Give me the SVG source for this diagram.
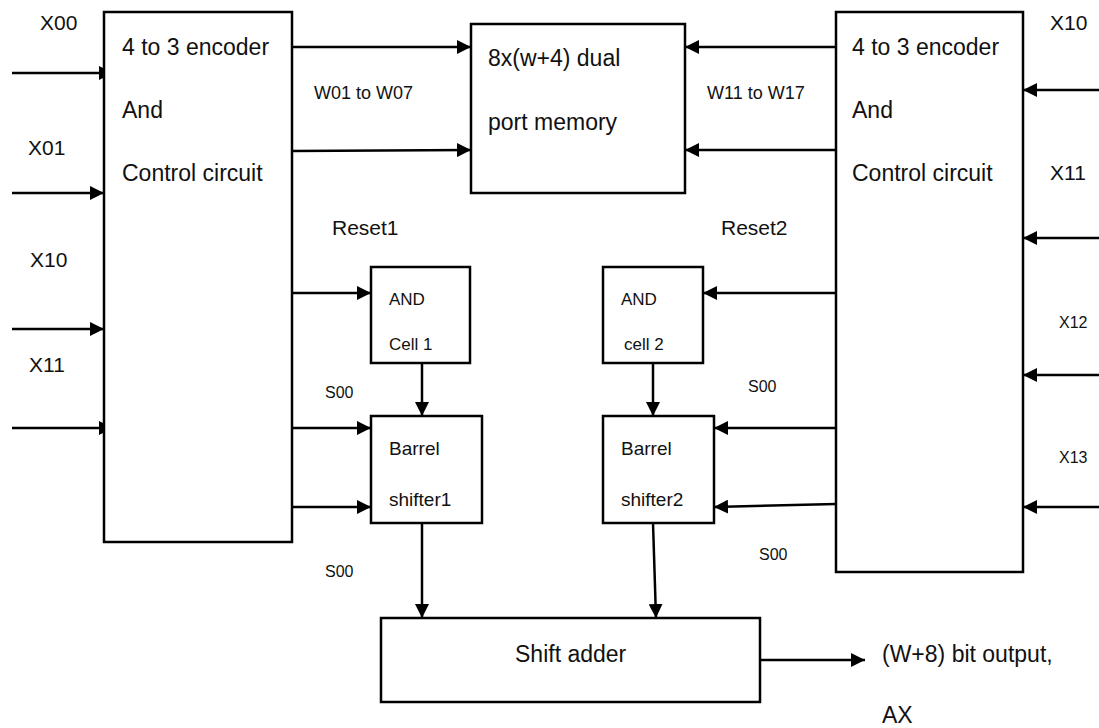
<svg xmlns="http://www.w3.org/2000/svg" width="1099" height="728" viewBox="0 0 1099 728">
<style>
.box{fill:#fff;stroke:#000;stroke-width:2.5}
.ln{stroke:#000;stroke-width:2.5;fill:none}
.t{font-family:"Liberation Sans",Arial,sans-serif;fill:#111}
.big{font-size:23px}
.mid{font-size:21px}
.sm{font-size:18px}
.cell{font-size:17px}
.bar{font-size:19px}
.xs{font-size:16px}
</style>
<defs>
<marker id="ah" viewBox="0 0 10 10" refX="10" refY="5" markerWidth="14" markerHeight="14" markerUnits="userSpaceOnUse" orient="auto">
<path d="M0,0 L10,5 L0,10 z" fill="#000"/>
</marker>
</defs>
<rect width="1099" height="728" fill="#fff"/>

<g id="connectors">
<line class="ln" x1="12" y1="73" x2="113" y2="73" marker-end="url(#ah)"/>
<line class="ln" x1="12" y1="193" x2="104" y2="193" marker-end="url(#ah)"/>
<line class="ln" x1="12" y1="329" x2="104" y2="329" marker-end="url(#ah)"/>
<line class="ln" x1="12" y1="428" x2="113" y2="428" marker-end="url(#ah)"/>

<line class="ln" x1="292" y1="47" x2="471" y2="47" marker-end="url(#ah)"/>
<line class="ln" x1="292" y1="151" x2="471" y2="150" marker-end="url(#ah)"/>
<line class="ln" x1="836" y1="47" x2="685" y2="47" marker-end="url(#ah)"/>
<line class="ln" x1="836" y1="150" x2="685" y2="150" marker-end="url(#ah)"/>

<line class="ln" x1="1099" y1="90" x2="1023" y2="90" marker-end="url(#ah)"/>
<line class="ln" x1="1099" y1="238" x2="1023" y2="238" marker-end="url(#ah)"/>
<line class="ln" x1="1099" y1="375" x2="1023" y2="375" marker-end="url(#ah)"/>
<line class="ln" x1="1099" y1="507" x2="1023" y2="507" marker-end="url(#ah)"/>

<line class="ln" x1="292" y1="293" x2="371" y2="293" marker-end="url(#ah)"/>
<line class="ln" x1="292" y1="428" x2="371" y2="428" marker-end="url(#ah)"/>
<line class="ln" x1="292" y1="507" x2="371" y2="507" marker-end="url(#ah)"/>

<line class="ln" x1="836" y1="293" x2="703" y2="293" marker-end="url(#ah)"/>
<line class="ln" x1="836" y1="428" x2="714" y2="428" marker-end="url(#ah)"/>
<line class="ln" x1="836" y1="504" x2="714" y2="507" marker-end="url(#ah)"/>

<line class="ln" x1="422" y1="363" x2="422" y2="416" marker-end="url(#ah)"/>
<line class="ln" x1="653" y1="363" x2="653" y2="416" marker-end="url(#ah)"/>
<line class="ln" x1="422" y1="523" x2="422" y2="618" marker-end="url(#ah)"/>
<line class="ln" x1="653" y1="523" x2="656" y2="618" marker-end="url(#ah)"/>

<line class="ln" x1="760" y1="660" x2="865" y2="660" marker-end="url(#ah)"/>
</g>

<g id="input-labels">
<text class="t mid" x="40" y="30">X00</text>
<text class="t mid" x="28" y="155">X01</text>
<text class="t mid" x="30" y="267">X10</text>
<text class="t mid" x="29" y="372">X11</text>
<text class="t mid" x="1050" y="30">X10</text>
<text class="t mid" x="1050" y="180">X11</text>
<text class="t xs" x="1059" y="328">X12</text>
<text class="t xs" x="1059" y="463">X13</text>
<text class="t sm" x="314" y="99">W01 to W07</text>
<text class="t sm" x="707" y="99">W11 to W17</text>
<text class="t mid" x="332" y="235">Reset1</text>
<text class="t mid" x="721" y="235">Reset2</text>
<text class="t xs" x="325" y="398">S00</text>
<text class="t xs" x="325" y="577">S00</text>
<text class="t xs" x="748" y="392">S00</text>
<text class="t xs" x="759" y="560">S00</text>
<text class="t big" x="882" y="662">(W+8) bit output,</text>
<text class="t big" x="882" y="723">AX</text>
</g>

<g id="enc-left">
<rect class="box" x="104" y="12" width="188" height="530"/>
<text class="t big" x="122" y="55">4 to 3 encoder</text>
<text class="t big" x="122" y="118">And</text>
<text class="t big" x="122" y="181">Control circuit</text>
</g>

<g id="memory">
<rect class="box" x="471" y="24" width="214" height="169"/>
<text class="t big" x="488" y="66">8x(w+4) dual</text>
<text class="t big" x="488" y="130">port memory</text>
</g>

<g id="enc-right">
<rect class="box" x="836" y="12" width="187" height="560"/>
<text class="t big" x="852" y="55">4 to 3 encoder</text>
<text class="t big" x="852" y="118">And</text>
<text class="t big" x="852" y="181">Control circuit</text>
</g>

<g id="and1">
<rect class="box" x="371" y="267" width="99" height="96"/>
<text class="t cell" x="389" y="305">AND</text>
<text class="t cell" x="389" y="350">Cell 1</text>
</g>

<g id="barrel1">
<rect class="box" x="371" y="416" width="111" height="107"/>
<text class="t bar" x="389" y="455">Barrel</text>
<text class="t bar" x="389" y="506">shifter1</text>
</g>

<g id="and2">
<rect class="box" x="603" y="267" width="100" height="96"/>
<text class="t cell" x="621" y="305">AND</text>
<text class="t cell" x="624" y="350">cell 2</text>
</g>

<g id="barrel2">
<rect class="box" x="603" y="416" width="111" height="107"/>
<text class="t bar" x="621" y="455">Barrel</text>
<text class="t bar" x="621" y="506">shifter2</text>
</g>

<g id="shift-adder">
<rect class="box" x="381" y="618" width="379" height="84"/>
<text class="t big" x="515" y="662">Shift adder</text>
</g>
</svg>
